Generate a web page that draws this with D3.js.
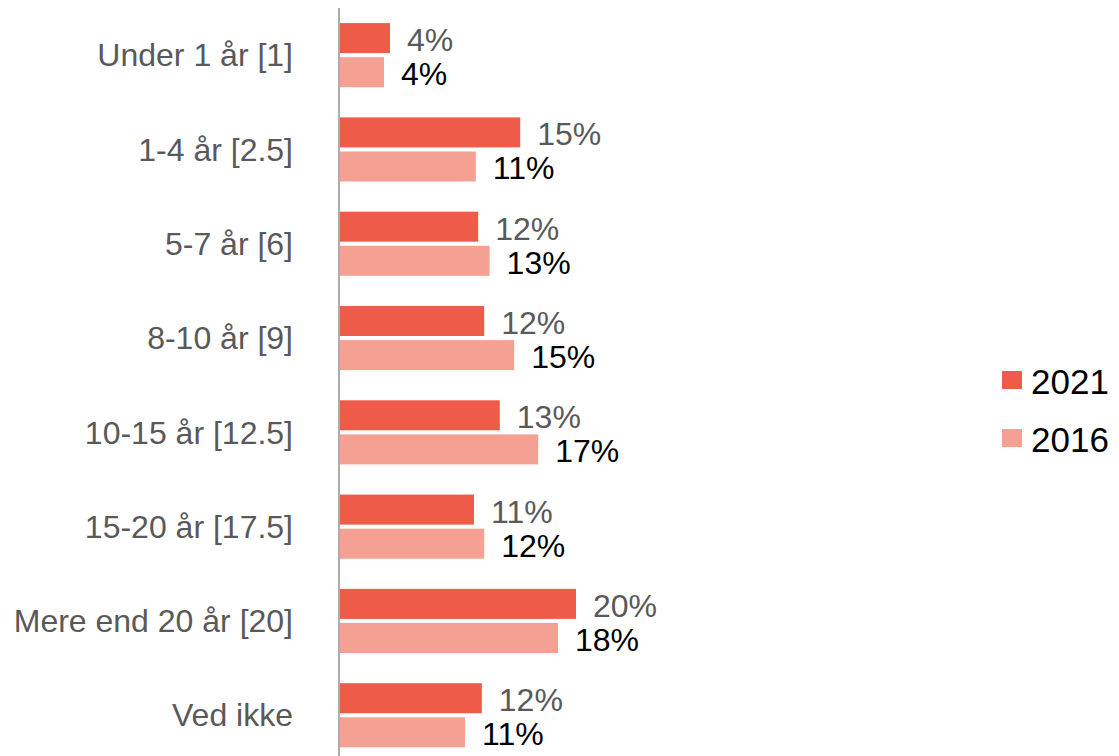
<!DOCTYPE html>
<html>
<head>
<meta charset="utf-8">
<script src="https://cdn.jsdelivr.net/npm/d3@7"></script>
<style>
  body { margin: 0; background: #fff; }
  text { font-family: "Liberation Sans", Arial, sans-serif; }
</style>
</head>
<body>
<svg id="chart"></svg>
<script>
// categories and values
var categories = ["Under 1 år [1]", "1-4 år [2.5]", "5-7 år [6]", "8-10 år [9]",
  "10-15 år [12.5]", "15-20 år [17.5]", "Mere end 20 år [20]", "Ved ikke"];
var seriesNames = ["2021", "2016"];
var values2021 = [4.25, 15.1, 11.6, 12.1, 13.4, 11.25, 19.75, 11.9];
var values2016 = [3.75, 11.4, 12.55, 14.6, 16.6, 12.1, 18.25, 10.5];

var colors = {"2021": "#EF5B49", "2016": "#F4A092"};
var labelColors = {"2021": "#595959", "2016": "#000000"};

var W = 1119, H = 756;
var svg = d3.select("#chart").attr("width", W).attr("height", H);

var data = categories.map(function(c, i) {
  return {cat: c, vals: [{s: "2021", v: values2021[i]}, {s: "2016", v: values2016[i]}]};
});

var x = d3.scaleLinear().domain([0, 20]).range([339, 579]);
var y0 = d3.scaleBand().domain(categories).range([8, 762.4])
  .paddingInner(0.32).paddingOuter(0.16);
var y1 = d3.scaleBand().domain(seriesNames).range([0, y0.bandwidth()]).paddingInner(0.12);

// bars
var groups = svg.selectAll(".grp").data(data).join("g")
  .attr("class", "grp")
  .attr("transform", function(d) { return "translate(0," + y0(d.cat) + ")"; });

groups.selectAll("rect").data(function(d) { return d.vals; }).join("rect")
  .attr("x", x(0))
  .attr("y", function(d) { return y1(d.s); })
  .attr("width", function(d) { return x(d.v) - x(0); })
  .attr("height", y1.bandwidth())
  .style("fill", function(d) { return colors[d.s]; });

groups.selectAll(".lbl").data(function(d) { return d.vals; }).join("text")
  .attr("class", "lbl")
  .attr("x", function(d) { return x(d.v) + 17; })
  .attr("y", function(d) { return y1(d.s) + y1.bandwidth() / 2 + 2; })
  .attr("dominant-baseline", "central")
  .style("font-size", "32px")
  .style("fill", function(d) { return labelColors[d.s]; })
  .text(function(d) { return Math.round(d.v) + "%"; });

// category axis
var yAxis = d3.axisLeft(y0).tickSize(0).tickPadding(46);
var ag = svg.append("g").attr("transform", "translate(339,0)").call(yAxis);
ag.select(".domain").remove();
ag.selectAll("text")
  .style("font-size", "32px")
  .style("font-family", "'Liberation Sans', Arial, sans-serif")
  .style("fill", "#595959")
  .attr("dy", "0.35em");
svg.append("line")
  .attr("x1", 339).attr("x2", 339)
  .attr("y1", 8).attr("y2", H)
  .style("stroke", "#ADADAD").style("stroke-width", 2);

// legend
var legend = svg.selectAll(".leg").data(seriesNames).join("g")
  .attr("class", "leg")
  .attr("transform", function(d, i) { return "translate(1002," + (371 + i * 58) + ")"; });
legend.append("rect").attr("width", 20).attr("height", 18)
  .style("fill", function(d) { return colors[d]; });
legend.append("text").attr("x", 29).attr("y", 10)
  .attr("dominant-baseline", "central")
  .style("font-size", "35px").style("fill", "#000")
  .text(function(d) { return d; });
</script>
</body>
</html>
